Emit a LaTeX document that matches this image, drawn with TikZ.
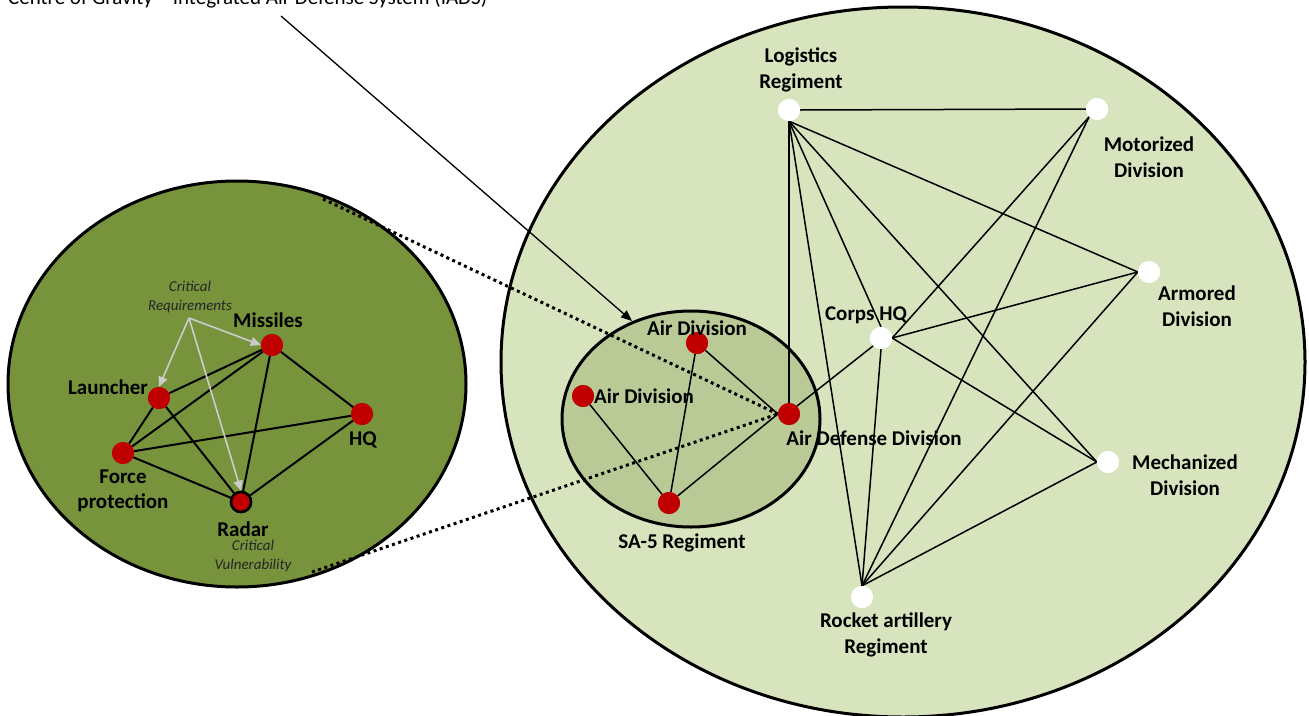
\documentclass[tikz,border=0pt]{standalone}
\usepackage{fontspec}
\setmainfont{Carlito}
\usetikzlibrary{arrows.meta}
\definecolor{bigfill}{HTML}{D7E4BD}
\definecolor{innerfill}{HTML}{B9CA96}
\definecolor{leftfill}{HTML}{77933C}
\definecolor{dotred}{HTML}{C00000}
\begin{document}
\begin{tikzpicture}[x=1pt,y=-1pt,
  reddot/.style={circle,fill=dotred,minimum size=22pt,inner sep=0pt},
  whitedot/.style={circle,fill=white,minimum size=22pt,inner sep=0pt},
  lbl/.style={font=\bfseries\fontsize{21}{25.6}\selectfont,align=center,inner sep=0pt},
  crit/.style={font=\itshape\fontsize{15}{18.5}\selectfont,align=center,inner sep=0pt,text=black!85},
  rline/.style={line width=1.5pt},
  lline/.style={line width=2pt},
  rim/.style={line width=3pt},
  dots/.style={line width=3pt,dash pattern=on 3pt off 3.5pt},
  grayarrow/.style={draw=gray!40,line width=1.6pt,-{Triangle[length=10pt,width=9pt]}},
  pointer/.style={line width=1.3pt,-{Triangle[length=11pt,width=9pt]}}]
\useasboundingbox (0,0) rectangle (1309,715);
\fill[white] (0,0) rectangle (1309,715);

% ellipses
\draw[rim,fill=bigfill] (903,362) ellipse [x radius=402,y radius=355];
\draw[rim,fill=leftfill] (237,384) ellipse [x radius=229,y radius=203];
\draw[rim,fill=innerfill] (691,419) ellipse [x radius=129,y radius=108];

% top caption (cut by page edge)
\node[anchor=base west,inner sep=0pt,font=\fontsize{21}{25}\selectfont] (title) at (8,4) {Centre of Gravity -- Integrated Air Defense System (IADS)};

% right nodes
\node[whitedot] (log) at (789,110) {};
\node[whitedot] (mot) at (1097,109) {};
\node[whitedot] (arm) at (1149,272) {};
\node[whitedot] (corps) at (881,338) {};
\node[whitedot] (mech) at (1108,462) {};
\node[whitedot] (rock) at (862,597) {};
\node[reddot] (add) at (789,414) {};
\node[reddot] (ad1) at (697,343) {};
\node[reddot] (ad2) at (583,396) {};
\node[reddot] (sa5) at (669,503) {};

% left nodes
\node[reddot] (mis) at (272,345) {};
\node[reddot] (lau) at (159,398) {};
\node[reddot] (fp) at (123,453) {};
\node[reddot] (hq) at (362,414) {};
\node[reddot,draw=black,line width=2.5pt,minimum size=20pt] (rad) at (241,502) {};

% right edges
\draw[rline] (log.east) -- (mot.west);
\draw[rline] (log.south) -- (add.north);
\draw[rline] (log.south) -- (rock.north);
\draw[rline] (log.south) -- (corps.north);
\draw[rline] (log.south) -- (mech.west);
\draw[rline] (log.south) -- (arm.west);
\draw[rline] (mot.south west) -- (corps.east);
\draw[rline] (mot.south west) -- (rock.north);
\draw[rline] (arm.west) -- (corps.east);
\draw[rline] (arm.west) -- (rock.north);
\draw[rline] (corps.east) -- (mech.west);
\draw[rline] (corps.south) -- (rock.north);
\draw[rline] (corps.south west) -- (add.north east);
\draw[rline] (mech.west) -- (rock.north);
\draw[rline] (ad1) -- (add.west);
\draw[rline] (ad1) -- (sa5);
\draw[rline] (ad2) -- (sa5);
\draw[rline] (sa5) -- (add.west);

% left edges
\draw[lline] (mis) -- (lau);
\draw[lline] (mis) -- (fp);
\draw[lline] (mis) -- (rad);
\draw[lline] (mis) -- (hq);
\draw[lline] (lau) -- (fp);
\draw[lline] (lau) -- (rad);
\draw[lline] (fp) -- (hq);
\draw[lline] (fp) -- (rad);
\draw[lline] (hq) -- (rad);

% redraw dots on top of edges
\node[whitedot] at (log) {};
\node[whitedot] at (mot) {};
\node[whitedot] at (arm) {};
\node[whitedot] at (corps) {};
\node[whitedot] at (mech) {};
\node[whitedot] at (rock) {};
\node[reddot] at (ad1) {};
\node[reddot] at (ad2) {};
\node[reddot] at (sa5) {};
\node[reddot] at (mis) {};
\node[reddot] at (lau) {};
\node[reddot] at (fp) {};
\node[reddot] at (hq) {};
\node[reddot,draw=black,line width=2.5pt,minimum size=20pt] at (rad) {};

% dotted zoom lines
\coordinate (zoomA) at (323,199);
\coordinate (zoomB) at (312,572);
\draw[dots] (zoomA) -- (add.west);
\draw[dots] (zoomB) -- (add.west);
\node[reddot] at (add) {};

% pointer arrow
\coordinate (ptr) at (281,16);
\coordinate (ptrend) at (632,321);
\draw[pointer] (ptr) -- (ptrend);

% critical requirement arrows
\coordinate (crq) at (189,318);
\draw[grayarrow] (crq) -- (lau.north);
\draw[grayarrow] (crq) -- (mis.west);
\draw[grayarrow] (crq) -- (rad.north);

% labels right
\node[lbl] (tlog) at (801,70) {Logistics\\Regiment};
\node[lbl] (tmot) at (1149,157) {Motorized\\Division};
\node[lbl] (tarm) at (1197,306) {Armored\\Division};
\node[lbl] (tmech) at (1185,475) {Mechanized\\Division};
\node[lbl] (trock) at (886,635) {Rocket artillery\\Regiment};
\node[lbl] (tcorps) at (866,315) {Corps HQ};
\node[lbl] (tadd) at (874,438) {Air Defense Division};
\node[lbl] (tad1) at (697,328) {Air Division};
\node[lbl] (tad2) at (644,396) {Air Division};
\node[lbl] (tsa5) at (682,543) {SA-5 Regiment};

% labels left
\node[crit] (tcrq) at (190,297) {Critical\\Requirements};
\node[lbl] (tmis) at (268,320) {Missiles};
\node[lbl] (tlau) at (108,387) {Launcher};
\node[lbl] (thq) at (363,440) {HQ};
\node[lbl] (tfp) at (123,491) {Force\\protection};
\node[lbl] (trad) at (243,529) {Radar};
\node[crit] (tcv) at (253,556) {Critical\\Vulnerability};
\end{tikzpicture}
\end{document}
